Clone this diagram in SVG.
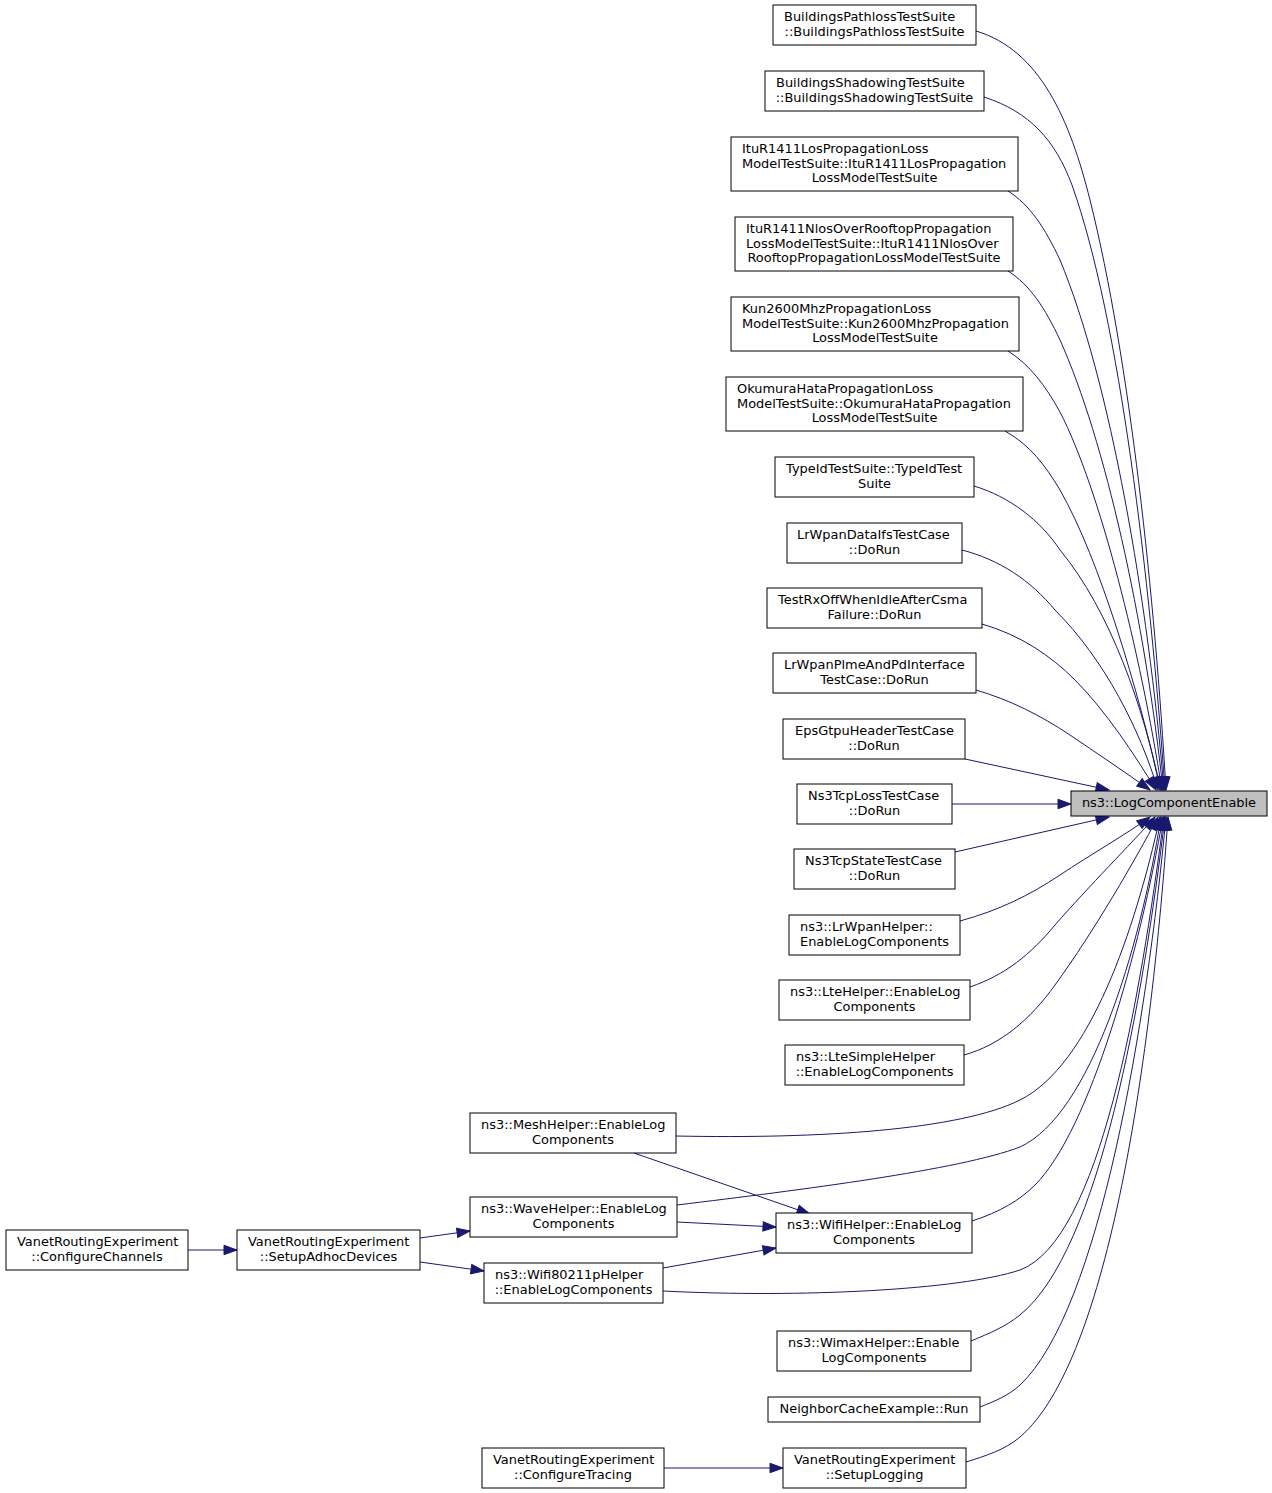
<svg xmlns="http://www.w3.org/2000/svg" width="1272" height="1493" viewBox="0 0 1272 1493">
<style>
.n rect{fill:#ffffff;stroke:#000000;stroke-width:1}
.t rect{fill:#bfbfbf;stroke:#000000;stroke-width:1}
text{font-family:"DejaVu Sans","Liberation Sans",sans-serif;font-size:12.95px;fill:#000000}
.c{text-anchor:middle}
.l{text-anchor:start}
.e path{fill:none;stroke:#191970;stroke-width:1;marker-end:url(#ah)}
</style>
<defs>
<marker id="ah" markerUnits="userSpaceOnUse" viewBox="-1 -6 15 12" refX="13" refY="0" markerWidth="15" markerHeight="12" orient="auto">
<path d="M0,-4.7 L13,0 L0,4.7 z" fill="#191970" stroke="#191970" stroke-width="1"/>
</marker>
</defs>
<rect width="1272" height="1493" fill="#ffffff"/>
<g class="e" id="edges">
<path d="M976,31 C1040,50 1070,120 1090,200 C1130,360 1155,600 1166,790"/>
<path d="M984,97 C1030,112 1055,140 1072,185 C1120,320 1150,580 1165,790"/>
<path d="M1008,191 C1030,205 1045,228 1060,260 C1110,380 1148,600 1164,790"/>
<path d="M1008,271 C1030,285 1045,308 1060,340 C1105,440 1145,620 1163,790"/>
<path d="M1008,351 C1030,365 1045,385 1060,412 C1100,490 1140,650 1162,790"/>
<path d="M1005,431 C1030,445 1045,465 1060,490 C1100,560 1138,690 1161,790"/>
<path d="M974,486 C1010,497 1040,520 1060,550 C1110,610 1145,710 1160,790"/>
<path d="M962,550 C1000,560 1030,580 1055,610 C1105,660 1140,730 1158,790"/>
<path d="M982,624 C1020,635 1050,655 1075,680 C1105,710 1135,755 1156,790"/>
<path d="M976,690 C1010,700 1040,715 1070,735 C1095,752 1125,772 1150,790"/>
<path d="M965,759 L1109,790"/>
<path d="M952,804 L1071,804"/>
<path d="M955,852 L1109,817"/>
<path d="M960,921 C1000,910 1030,895 1060,875 C1090,855 1125,835 1150,817"/>
<path d="M970,987 C1005,975 1030,955 1055,925 C1090,885 1130,845 1155,817"/>
<path d="M964,1055 C1000,1045 1030,1020 1055,985 C1095,930 1135,860 1158,817"/>
<path d="M676,1136 C820,1139 960,1130 1020,1100 C1090,1065 1135,930 1160,817"/>
<path d="M677,1205 C800,1190 960,1170 1020,1147 C1090,1115 1140,950 1161,817"/>
<path d="M972,1221 C1000,1212 1020,1200 1035,1185 C1090,1130 1140,950 1163,817"/>
<path d="M663,1291 C800,1298 960,1290 1020,1270 C1100,1240 1140,1000 1164,817"/>
<path d="M971,1341 C990,1333 1005,1327 1020,1315 C1100,1250 1143,1000 1165,817"/>
<path d="M980,1407 C995,1401 1008,1396 1020,1385 C1100,1310 1147,1020 1166,817"/>
<path d="M966,1462 C985,1456 1005,1450 1020,1437 C1110,1360 1152,1050 1168,817"/>
<path d="M188,1250 L237,1250"/>
<path d="M420,1238 L470,1231"/>
<path d="M420,1262 L484,1271"/>
<path d="M634,1153 L810,1214"/>
<path d="M677,1222 L776,1227"/>
<path d="M663,1268 L776,1248"/>
<path d="M664,1468 L783,1468"/>
</g>
<g class="t" id="target"><rect x="1071" y="791" width="196" height="25"/><text class="c" x="1169" y="807">ns3::LogComponentEnable</text></g>
<g class="n" id="n1"><rect x="773" y="5" width="203" height="40"/><text class="l" x="784" y="21">BuildingsPathlossTestSuite</text><text class="c" x="874.5" y="35.7">::BuildingsPathlossTestSuite</text></g>
<g class="n" id="n2"><rect x="765" y="71" width="219" height="40"/><text class="l" x="776" y="87">BuildingsShadowingTestSuite</text><text class="c" x="874.5" y="101.7">::BuildingsShadowingTestSuite</text></g>
<g class="n" id="n3"><rect x="731" y="137" width="287" height="54"/><text class="l" x="742" y="153">ItuR1411LosPropagationLoss</text><text class="l" x="742" y="167.7">ModelTestSuite::ItuR1411LosPropagation</text><text class="c" x="874.5" y="182.3">LossModelTestSuite</text></g>
<g class="n" id="n4"><rect x="735" y="217" width="278" height="54"/><text class="l" x="746" y="233">ItuR1411NlosOverRooftopPropagation</text><text class="l" x="746" y="247.7">LossModelTestSuite::ItuR1411NlosOver</text><text class="c" x="874" y="262.3">RooftopPropagationLossModelTestSuite</text></g>
<g class="n" id="n5"><rect x="731" y="297" width="288" height="54"/><text class="l" x="742" y="313">Kun2600MhzPropagationLoss</text><text class="l" x="742" y="327.7">ModelTestSuite::Kun2600MhzPropagation</text><text class="c" x="875" y="342.3">LossModelTestSuite</text></g>
<g class="n" id="n6"><rect x="726" y="377" width="297" height="54"/><text class="l" x="737" y="393">OkumuraHataPropagationLoss</text><text class="l" x="737" y="407.7">ModelTestSuite::OkumuraHataPropagation</text><text class="c" x="874.5" y="422.3">LossModelTestSuite</text></g>
<g class="n" id="n7"><rect x="775" y="457" width="199" height="40"/><text class="l" x="786" y="473">TypeIdTestSuite::TypeIdTest</text><text class="c" x="874.5" y="487.7">Suite</text></g>
<g class="n" id="n8"><rect x="787" y="523" width="175" height="40"/><text class="l" x="797" y="539">LrWpanDataIfsTestCase</text><text class="c" x="874.5" y="553.7">::DoRun</text></g>
<g class="n" id="n9"><rect x="767" y="588" width="215" height="40"/><text class="l" x="778" y="604">TestRxOffWhenIdleAfterCsma</text><text class="c" x="874.5" y="618.7">Failure::DoRun</text></g>
<g class="n" id="n10"><rect x="773" y="653" width="203" height="40"/><text class="l" x="784" y="669">LrWpanPlmeAndPdInterface</text><text class="c" x="874.5" y="683.7">TestCase::DoRun</text></g>
<g class="n" id="n11"><rect x="783" y="719" width="182" height="40"/><text class="l" x="795" y="735">EpsGtpuHeaderTestCase</text><text class="c" x="874" y="749.7">::DoRun</text></g>
<g class="n" id="n12"><rect x="797" y="784" width="155" height="40"/><text class="l" x="808" y="800">Ns3TcpLossTestCase</text><text class="c" x="874.5" y="814.7">::DoRun</text></g>
<g class="n" id="n13"><rect x="794" y="849" width="161" height="40"/><text class="l" x="805" y="865">Ns3TcpStateTestCase</text><text class="c" x="874.5" y="879.7">::DoRun</text></g>
<g class="n" id="n14"><rect x="789" y="915" width="171" height="40"/><text class="l" x="800" y="931">ns3::LrWpanHelper::</text><text class="c" x="874.5" y="945.7">EnableLogComponents</text></g>
<g class="n" id="n15"><rect x="779" y="980" width="191" height="40"/><text class="l" x="790" y="996">ns3::LteHelper::EnableLog</text><text class="c" x="874.5" y="1010.7">Components</text></g>
<g class="n" id="n16"><rect x="785" y="1045" width="179" height="40"/><text class="l" x="796" y="1061">ns3::LteSimpleHelper</text><text class="c" x="874.5" y="1075.7">::EnableLogComponents</text></g>
<g class="n" id="n17"><rect x="470" y="1113" width="206" height="40"/><text class="l" x="481" y="1129">ns3::MeshHelper::EnableLog</text><text class="c" x="573" y="1143.7">Components</text></g>
<g class="n" id="n18"><rect x="470" y="1197" width="207" height="40"/><text class="l" x="481" y="1213">ns3::WaveHelper::EnableLog</text><text class="c" x="573.5" y="1227.7">Components</text></g>
<g class="n" id="n19"><rect x="776" y="1213" width="196" height="40"/><text class="l" x="787" y="1229">ns3::WifiHelper::EnableLog</text><text class="c" x="874" y="1243.7">Components</text></g>
<g class="n" id="n20"><rect x="484" y="1263" width="179" height="40"/><text class="l" x="495" y="1279">ns3::Wifi80211pHelper</text><text class="c" x="573.5" y="1293.7">::EnableLogComponents</text></g>
<g class="n" id="n21"><rect x="237" y="1230" width="183" height="40"/><text class="l" x="248" y="1246">VanetRoutingExperiment</text><text class="c" x="328.5" y="1260.7">::SetupAdhocDevices</text></g>
<g class="n" id="n22"><rect x="6" y="1230" width="182" height="40"/><text class="l" x="17" y="1246">VanetRoutingExperiment</text><text class="c" x="97" y="1260.7">::ConfigureChannels</text></g>
<g class="n" id="n23"><rect x="777" y="1331" width="194" height="40"/><text class="l" x="788" y="1347">ns3::WimaxHelper::Enable</text><text class="c" x="874" y="1361.7">LogComponents</text></g>
<g class="n" id="n24"><rect x="768" y="1397" width="212" height="25"/><text class="c" x="874" y="1413">NeighborCacheExample::Run</text></g>
<g class="n" id="n25"><rect x="783" y="1448" width="183" height="40"/><text class="l" x="794" y="1464">VanetRoutingExperiment</text><text class="c" x="874.5" y="1478.7">::SetupLogging</text></g>
<g class="n" id="n26"><rect x="482" y="1448" width="182" height="40"/><text class="l" x="493" y="1464">VanetRoutingExperiment</text><text class="c" x="573" y="1478.7">::ConfigureTracing</text></g>
</svg>
